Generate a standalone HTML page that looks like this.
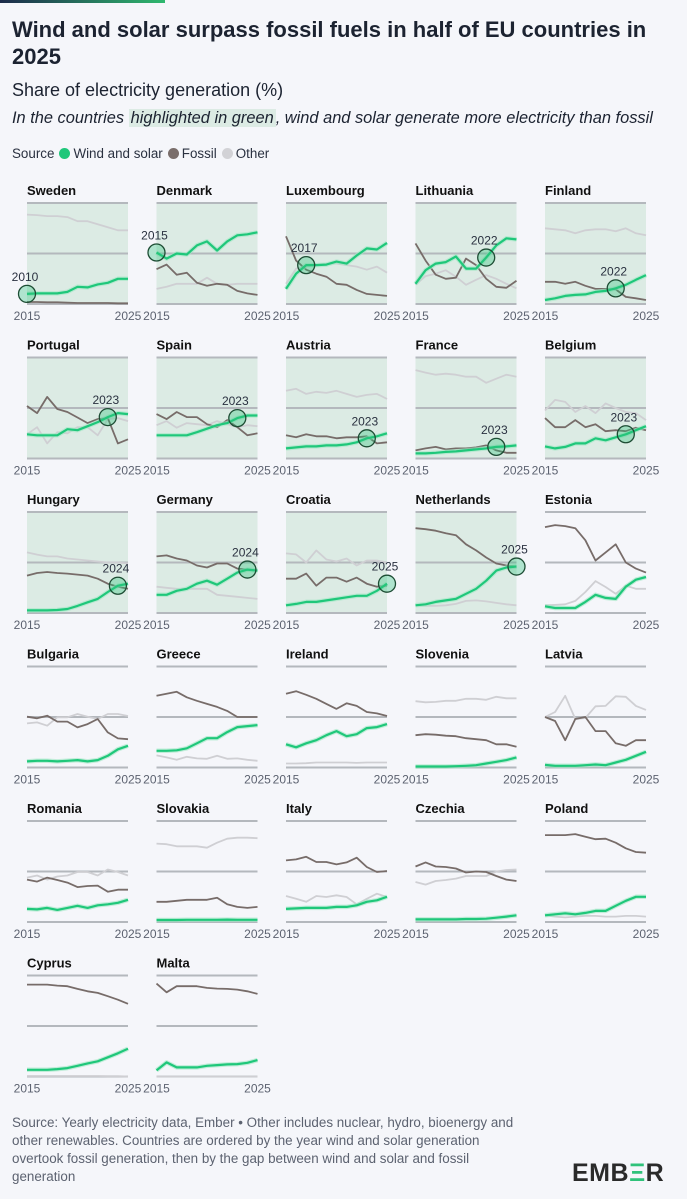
<!DOCTYPE html>
<html><head><meta charset="utf-8">
<style>
html,body{margin:0;padding:0;background:#f5f6fa;}
body{width:687px;height:1199px;position:relative;overflow:hidden;font-family:"Liberation Sans",sans-serif;color:#1c2331;}
.topbar{position:absolute;left:0;top:0;width:165px;height:3px;background:linear-gradient(90deg,#1c2a4a,#2fb86e);}
h1{position:absolute;left:12px;top:16px;margin:0;font-size:22px;line-height:27px;font-weight:bold;width:670px;color:#1c2331;}
.sub{position:absolute;left:12px;top:80px;font-size:18px;color:#1c2331;}
.ital{position:absolute;left:12px;top:109px;font-size:16.4px;font-style:italic;color:#1c2331;white-space:nowrap;}
.hl{background:#dcebe4;padding:0 2px;}
.legend{position:absolute;left:12px;top:146px;font-size:13.4px;color:#2a3140;display:flex;align-items:center;}
.dot{display:inline-block;width:11px;height:11px;border-radius:50%;margin:0 3px 0 5px;}
.foot{position:absolute;left:12px;top:1114px;width:560px;font-size:13.4px;line-height:18px;color:#5c6270;white-space:nowrap;}
.logo{position:absolute;left:572px;top:1159px;font-size:25px;font-weight:bold;color:#2a2a2a;letter-spacing:0.5px;}
.logo span{color:#2fc27a;}
svg{position:absolute;left:0;top:0;}
</style></head>
<body>
<div class="topbar"></div>
<h1>Wind and solar surpass fossil fuels in half of EU countries in<br>2025</h1>
<div class="sub">Share of electricity generation (%)</div>
<div class="ital">In the countries <span class="hl">highlighted in green</span>, wind and solar generate more electricity than fossil</div>
<div class="legend">
<span>Source</span>
<span class="dot" style="background:#1fc77a"></span><span>Wind and solar</span>
<span class="dot" style="background:#7a6e6b"></span><span>Fossil</span>
<span class="dot" style="background:#d2d2d6"></span><span>Other</span>
</div>
<svg id="chart" width="687" height="1199"></svg>
<div class="foot">Source: Yearly electricity data, Ember • Other includes nuclear, hydro, bioenergy and<br>other renewables. Countries are ordered by the year wind and solar generation<br>overtook fossil generation, then by the gap between wind and solar and fossil<br>generation</div>
<div class="logo">EMB<span>Ξ</span>R</div>
<script>
const years = [2015,2016,2017,2018,2019,2020,2021,2022,2023,2024,2025];
const countries = ["Sweden","Denmark","Luxembourg","Lithuania","Finland","Portugal","Spain","Austria","France","Belgium","Hungary","Germany","Croatia","Netherlands","Estonia","Bulgaria","Greece","Ireland","Slovenia","Latvia","Romania","Slovakia","Italy","Czechia","Poland","Cyprus","Malta"];
const windSolar = [
[10,10.5,10.5,10.5,12,17,16.4,19.4,21,25,25],
[51,45,50,49,58,62,53,62,68,69,71],
[15,30,38.5,38.5,39,42,40,48,55,54,60.5],
[20,33.5,40,41.5,47,35,35,46,58,65,64],
[4,5.6,8,9,9.5,12,13,15.5,19,24,28.6],
[24,23,23,23,29,28,32,36,41,45,44],
[23,23,23,23,26,29.5,33,35,40,42.6,42.6],
[10,11,12,12,13,13,14,16,20,22,25],
[5,5,5.6,6.5,7,8,9,10,11.5,12,13],
[12,10,11.5,15,15,20,18,21,24,28,32],
[2.6,2.6,2.6,3,4,7,10.6,14,20.8,27,29],
[18,18,22,24,29,32,28,34,40,43,42],
[7.6,9,11,11,12.5,14,15.5,17,17,22,29],
[7.6,8.6,11,12.5,14,19,24,32,42,45,46],
[6.6,5,5,5,11,18,15,14,26,33,35.6],
[6,6.6,6.6,6,6.6,7.3,6,7.3,11.6,18,21.5],
[16.5,16.5,17,19,24,29,29,35,40,41,42],
[23,20,24,27,32,36,31,33,39,40,43],
[1,1,1,1,1.3,1.7,2.3,4,5.6,7.3,10],
[2.6,1.7,1.7,1.7,2.3,3,2.3,5,7.6,11.6,15.5],
[13,12.5,14,12,14,16,14,16.5,17.5,19,22],
[2,2,2,2.2,2.2,2.2,2.2,2.4,2.2,2.2,2.2],
[13,13.5,14,14,14,15,15,16.5,20,21.5,25],
[2.6,2.6,2.6,2.6,2.6,3,3,3.3,4.3,5.3,6.6],
[6.6,7.6,8.6,7.6,9,11,11,16,21,25,25],
[6.6,6.6,6.6,7.3,8.3,10.6,13,15,19,23,27.5],
[6,14,9,9,9,10.6,11.3,12,12.3,13.6,16.2]
];
const fossil = [
[2,2,1.7,1.7,1.3,1,1,1,1,0.7,0.7],
[34.5,39,29,31,21,18,20,19,13,10.5,9],
[67,43,34,30,27,20,19,14,10,9,8],
[60,43,29,25,26,45,38.5,25,17,16,23],
[22,22,20,22,18,15,15,14.5,7,5.6,4],
[52,45,61,49,46,40.6,35,39,40,15,19],
[44,39,46,41,41,34,31,38,31,23,25],
[23,21,24,22,22,20,21,21,22,15,16],
[8,10,11.5,9,10,10,11,13,8,5.6,5.6],
[40,31,31,38,31,34,27,28,27,30.5,28],
[37,39.6,40.6,39.6,39,38,37,34,29,26,24],
[56,57,54,52,47,45,49,49,44,43,42],
[34,34,39,27,35,35,31,35,29,26,27],
[84,83,81.5,79,77,68,62,55,49,47,46],
[85,87,86,84,72,52,60,68,50,44,40],
[50.3,48.7,51.3,45.4,45.4,39.7,43,48,34.8,28.8,28],
[71,73,75,69.5,66,63,60,56,50,50,50],
[73,75.5,72,68,63,58,63.6,61,55,53.6,51],
[32,33,32.5,31.5,31,29,28,27,23,23,20.5],
[50,46,27,48,50,36,36,24,21.5,27,27],
[42,40,44,41.6,39,34.6,35.6,36,30,32,32],
[20,20,21,22,22,22,24,17.5,15,14,15],
[61,62,64.6,59.4,59.4,57,59,63.7,54.5,49.5,50.5],
[55,59,55,54.5,53,49,50,49.5,45.5,42,40.6],
[86,86,86,87,84.5,82,82.5,78.5,73,69.3,68.6],
[91,91,91,90,89.4,86.7,84.4,82.8,79.5,76,72],
[92,83.4,89.4,89.4,89.4,87.7,87,86.7,86,84.4,81.8]
];
const other = [
[88.5,88,87,87,86,82,82,79,76,73,73],
[15,17,20,20,20,26,20,19,20,20,20],
[20,35,37,39,40,40,38.5,37,34,37,31],
[19,27.6,30,33.5,27,19,24,28.6,25,20,15.5],
[75,74,73,70,73,74,74,72,75,70,68],
[24,31,15,26,25,31,31,23,39,40,37],
[33,37,30.5,35,34,33,37,34,31,33,32],
[67,69,64,66,65,67,64,61,63,64,59],
[87.5,85,83,84,83,81,81,75,79,83,81],
[47.5,58,56,46,52,45,54.6,50,46,45,38],
[60,57.8,56,56,54,53,52,51,50,50,49],
[26,25,24,24,24,24,18,17,16,15,14],
[59,58,50,62,53,51,54,47,52,52,50],
[7.6,7,7,7.6,9,12,12.5,11.5,10,8.6,7.6],
[7.6,8,8.6,12,20.8,31.6,25.7,19,27,24,24],
[43.7,44.7,41.4,49.7,49.7,53,50.3,48,53,53,51],
[12,10,7.6,10.6,9,8.6,11.6,8.6,9,7.6,6.6],
[4,4,4.3,5,5,5,5,4.6,5,5,5],
[65.6,64.6,65,66,66,68,68,67,70,68.5,68.5],
[50,55,71,48,49,60.6,61,70.5,70,61,57],
[44,46,42,45,46,49.5,49.5,46,52,49.5,46],
[77.6,77,75,75,75,73.6,78.5,82.5,83.5,83.5,83],
[25.7,23,20,25.7,24.8,26.4,24.8,17.5,23,28,24.8],
[39.6,37,40.6,41.6,43,45.5,45.5,45.5,50,51.5,52],
[6.6,5.3,4.6,5.3,6,6,5.3,5.3,6,6,5.3],
[0.5,0.5,0.5,0.5,0.5,0.5,0.5,0.5,0.3,0.3,0],
[0,0,0,0,0,0,0,0,0,0,0]
];
const crossYearLabel = ["2010","2015","2017","2022","2022","2023","2023","2023","2023","2023","2024","2024","2025","2025"];
const crossYear = [2015,2015,2017,2022,2022,2023,2023,2023,2023,2023,2024,2024,2025,2025];
const axisLabels = ["2015","2025"];

const NS="http://www.w3.org/2000/svg";
const svg=document.getElementById('chart');
const PW=101, PH=101, X0=27, Y0=203, DX=129.5, DY=154.5;
function mk(tag,attrs,parent){const e=document.createElementNS(NS,tag);for(const k in attrs)e.setAttribute(k,attrs[k]);(parent||svg).appendChild(e);return e;}
function xScale(i,left){return left+(years[i]-years[0])/(years[years.length-1]-years[0])*PW;}
function yScale(v,top){return top+PH-(v/100)*PH;}
function slug(s){return s.toLowerCase().replace(/\s+/g,'-');}

countries.forEach((name,k)=>{
  const col=k%5,row=Math.floor(k/5);
  const left=X0+col*DX, top=Y0+row*DY;
  const g=mk('g',{});
  
  
  if(k<crossYear.length){
    const bg=mk('rect',{x:left,y:top,width:PW,height:PH,fill:'#dcebe4'},g);
    
    
  }
  [0,50,100].forEach(v=>{
    const ln=mk('line',{x1:left,x2:left+PW,y1:yScale(v,top),y2:yScale(v,top),stroke:'#b4b8bd','stroke-width':2},g);
    
    
  });
  const t=mk('text',{x:left,y:top-8,'font-size':13,'font-weight':'bold',fill:'#111'},g);
  t.textContent=name;
  
  
  axisLabels.forEach((lab,j)=>{
    const a=mk('text',{x:left+j*PW,y:top+PH+16,'font-size':12,fill:'#5c6270','text-anchor':'middle'},g);
    a.textContent=lab;
    
    
  });
  const series=[[other[k],'#cfcfd3',1.8,'line-other'],[fossil[k],'#776c69',1.8,'line-fossil'],[windSolar[k],'#1fc77a',2.2,'line-wind-solar']];
  series.forEach(s=>{
    const pts=s[0].map((v,i)=>xScale(i,left).toFixed(1)+','+yScale(v,top).toFixed(1)).join(' ');
    if(s[3]==='line-wind-solar'){
      const gl=mk('polyline',{points:pts,fill:'none',stroke:'#9fe8c3','stroke-width':4.5,'stroke-linejoin':'round',opacity:0.6},g);
      
      
    }
    const p=mk('polyline',{points:pts,fill:'none',stroke:s[1],'stroke-width':s[2],'stroke-linejoin':'round'},g);
    
    
  });
  if(k<crossYear.length){
    const i=years.indexOf(crossYear[k]);
    const cx=xScale(i,left), cy=yScale(windSolar[k][i],top);
    const c=mk('circle',{cx:cx,cy:cy,r:8.5,fill:'rgba(47,194,122,0.35)',stroke:'#1d4d34','stroke-width':1.3},g);
    
    
    const l=mk('text',{x:cx-2,y:cy-13,'font-size':12,fill:'#2a3140','text-anchor':'middle'},g);
    l.textContent=crossYearLabel[k];
    
    
  }
});
</script>
</body></html>
